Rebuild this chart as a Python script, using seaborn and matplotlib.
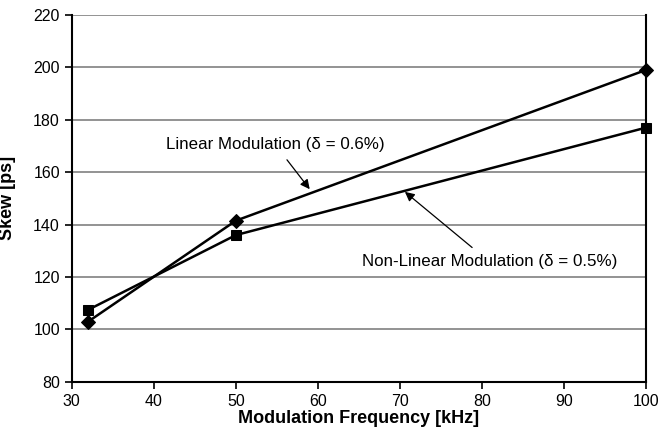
import seaborn as sns
import matplotlib
matplotlib.use('Agg')
import matplotlib.pyplot as plt
import pandas as pd

freq = [32, 50, 100]
linear_skew = [103, 141.5, 199]
nonlinear_skew = [107.5, 136, 177]
x_ticks = [30, 40, 50, 60, 70, 80, 90, 100]
y_ticks = [80, 100, 120, 140, 160, 180, 200, 220]

df = pd.DataFrame({
    'freq': freq * 2,
    'skew': linear_skew + nonlinear_skew,
    'series': ['Linear'] * 3 + ['Non-Linear'] * 3,
})

sns.set_style('white')
plt.rcParams['font.family'] = ['Liberation Sans', 'DejaVu Sans']
plt.rcParams['text.color'] = 'black'
plt.rcParams['axes.labelcolor'] = 'black'
plt.rcParams['xtick.color'] = 'black'
plt.rcParams['ytick.color'] = 'black'

fig = plt.figure(figsize=(6.58, 4.36), dpi=100)
ax = fig.add_axes([0.109, 0.124, 0.873, 0.842])

for y in y_ticks:
    ax.axhline(y, color='#808080', lw=1.2, zorder=0)

sns.lineplot(data=df, x='freq', y='skew', hue='series', style='series',
             markers={'Linear': 'D', 'Non-Linear': 's'}, dashes=False,
             palette={'Linear': 'black', 'Non-Linear': 'black'},
             markersize=7, lw=1.8, legend=False, ax=ax,
             markeredgecolor='black', clip_on=False, zorder=5)

ax.set_xlim(30, 100)
ax.set_ylim(80, 220)
ax.set_xticks(x_ticks)
ax.set_yticks(y_ticks)
ax.tick_params(axis='both', direction='out', length=5, width=1.2, labelsize=11.5,
               left=True, bottom=True, color='black')
ax.set_xlabel('Modulation Frequency [kHz]', fontsize=13, fontweight='bold', labelpad=1)
ax.set_ylabel('Skew [ps]', fontsize=13, fontweight='bold', labelpad=12)

for side in ['left', 'bottom', 'right']:
    ax.spines[side].set_color('black')
    ax.spines[side].set_linewidth(1.5)
ax.spines['top'].set_visible(False)

ax.annotate('Linear Modulation (\u03b4 = 0.6%)', xy=(59, 153.5), xytext=(54.8, 170.5),
            ha='center', va='center', fontsize=12.2,
            arrowprops=dict(arrowstyle='-|>', color='black', lw=0.9,
                            mutation_scale=14, shrinkA=4, shrinkB=0))
ax.annotate('Non-Linear Modulation (\u03b4 = 0.5%)', xy=(70.6, 152.5), xytext=(80.9, 125.8),
            ha='center', va='center', fontsize=12.2,
            arrowprops=dict(arrowstyle='-|>', color='black', lw=0.9,
                            mutation_scale=14, shrinkA=4, shrinkB=0))

plt.savefig('out.png', dpi=100)
plt.close()
